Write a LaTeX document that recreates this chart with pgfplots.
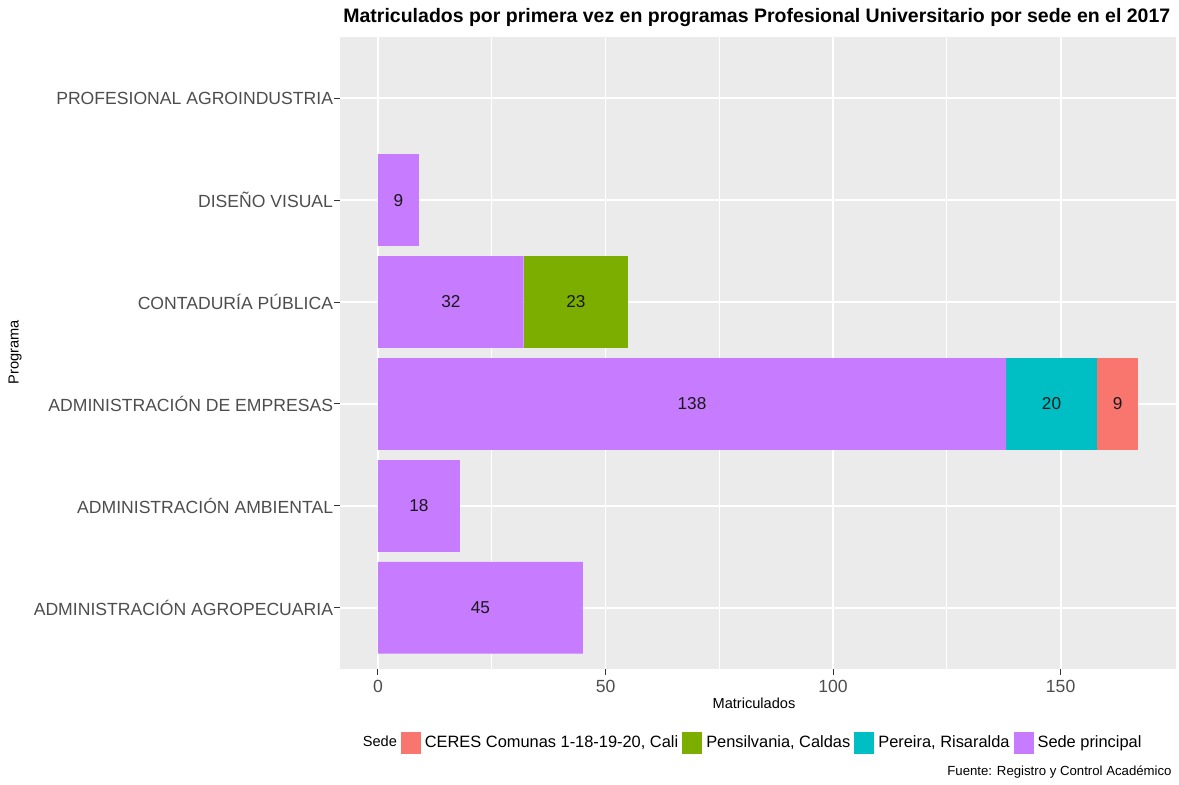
\documentclass[border=0pt]{standalone}
\usepackage{fontspec}
\setmainfont{Liberation Sans}
\usepackage{pgfplots}
\pgfplotsset{compat=1.18}
\definecolor{ceres}{HTML}{F8766D}
\definecolor{pens}{HTML}{7CAE00}
\definecolor{pere}{HTML}{00BFC4}
\definecolor{sede}{HTML}{C77CFF}
\definecolor{panel}{HTML}{EBEBEB}
\definecolor{gray30}{HTML}{4D4D4D}
\definecolor{gray20}{HTML}{333333}
\pgfplotstableread{
y sede pere pens ceres
1 45 0 0 0
2 18 0 0 0
3 138 20 0 9
4 32 0 23 0
5 9 0 0 0
6 0 0 0 0
}\bars
\pgfplotstableread{
x y lab
22.5 1 45
9 2 18
69 3 138
148 3 20
162.5 3 9
16 4 32
43.5 4 23
4.5 5 9
}\labs
\begin{document}
\begin{tikzpicture}[x=1pt,y=1pt]
\useasboundingbox (0,0) rectangle (589.5,392);
\begin{axis}[
  at={(170pt,57.5pt)}, anchor=south west,
  width=418pt, height=316pt, scale only axis,
  xmin=-8.35, xmax=175.35, ymin=0.4, ymax=6.6,
  xbar stacked, bar width=0.9,
  legend image code/.code={\fill[#1] (0pt,-5.5pt) rectangle (10pt,5.5pt);},
  axis background/.style={fill=panel},
  axis line style={draw=none},
  tick pos=left, tick align=outside,
  major tick length=2.75pt, minor tick length=0pt,
  tick style={color=gray20, line width=0.5pt},
  xtick={0,50,100,150}, minor xtick={25,75,125},
  ytick={1,2,3,4,5,6},
  yticklabels={ADMINISTRACIÓN AGROPECUARIA, ADMINISTRACIÓN AMBIENTAL, ADMINISTRACIÓN DE EMPRESAS, CONTADURÍA PÚBLICA, DISEÑO VISUAL, PROFESIONAL AGROINDUSTRIA},
  xmajorgrids, xminorgrids, ymajorgrids,
  major grid style={white, line width=0.9pt},
  minor grid style={white, line width=0.45pt},
  /pgf/number format/assume math mode=true,
  xticklabel style={font=\fontsize{8.8}{10}\selectfont, color=gray30, yshift=0.8pt},
  yticklabel style={font=\fontsize{8.8}{10}\selectfont, color=gray30, xshift=2.8pt},
  reverse legend,
  legend columns=-1,
  legend style={at={(0.493,-0.117)}, anchor=center, draw=none, fill=none,
    font=\fontsize{8.2}{10}\selectfont,
    /tikz/every even column/.append style={column sep=0pt}},
]
\addplot[fill=sede, draw=none] table[x=sede, y=y] {\bars};
\addlegendentry{Sede principal}
\addplot[fill=pere, draw=none] table[x=pere, y=y] {\bars};
\addlegendentry{Pereira, Risaralda}
\addplot[fill=pens, draw=none] table[x=pens, y=y] {\bars};
\addlegendentry{Pensilvania, Caldas}
\addplot[fill=ceres, draw=none] table[x=ceres, y=y] {\bars};
\addlegendentry{CERES Comunas 1-18-19-20, Cali}
\addlegendimage{empty legend}
\addlegendentry{\fontsize{7.3}{8}\selectfont Sede}
\end{axis}
\begin{axis}[
  at={(170pt,57.5pt)}, anchor=south west,
  width=418pt, height=316pt, scale only axis,
  xmin=-8.35, xmax=175.35, ymin=0.4, ymax=6.6,
  hide axis,
]
\addplot[only marks, mark=*, mark size=0pt, mark options={draw=none, fill=none},
  point meta=explicit symbolic, nodes near coords,
  every node near coord/.append style={anchor=center, font=\fontsize{8.6}{10}\selectfont, color=black!90}]
  table[x=x, y=y, meta=lab] {\labs};
\end{axis}
\node[anchor=west, inner sep=0pt, font=\bfseries\fontsize{9.75}{11}\selectfont] at (171.5,383) {Matriculados por primera vez en programas Profesional Universitario por sede en el 2017};
\node[font=\fontsize{7.3}{8}\selectfont] at (377,40.5) {Matriculados};
\node[font=\fontsize{7.3}{8}\selectfont, rotate=90] at (7.5,216) {Programa};
\node[anchor=east, inner sep=0pt, font=\fontsize{6.6}{8}\selectfont] at (586,6) {Fuente: Registro y Control Académico};
\end{tikzpicture}
\end{document}
